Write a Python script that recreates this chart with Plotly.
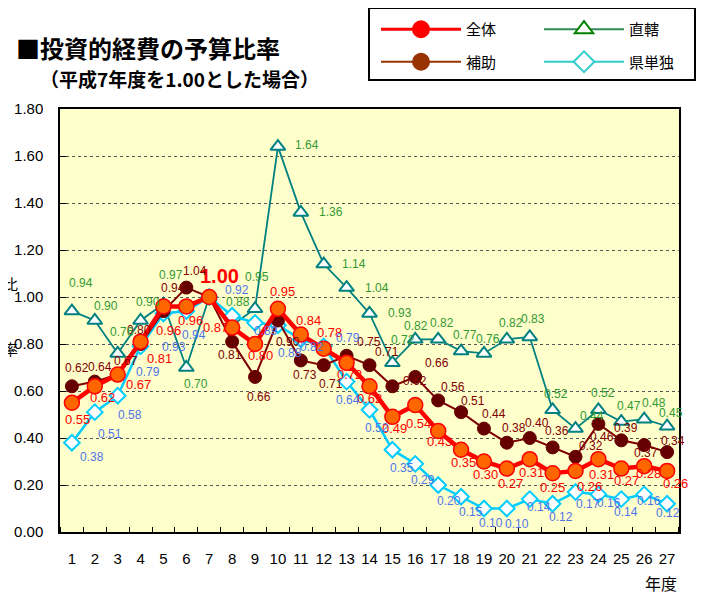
import plotly.graph_objects as go

years = list(range(1, 28))
year_labels = [str(y) for y in years]

zentai = [0.55, 0.62, 0.67, 0.81, 0.96, 0.96, 1.00, 0.87, 0.80, 0.95, 0.84, 0.78, 0.72, 0.62,
          0.49, 0.54, 0.43, 0.35, 0.30, 0.27, 0.31, 0.25, 0.26, 0.31, 0.27, 0.28, 0.26]
hojo = [0.62, 0.64, 0.67, 0.80, 0.94, 1.04, 1.00, 0.81, 0.66, 0.90, 0.73, 0.71, 0.75, 0.71,
        0.62, 0.66, 0.56, 0.51, 0.44, 0.38, 0.40, 0.36, 0.32, 0.46, 0.39, 0.37, 0.34]
chokkatsu = [0.94, 0.90, 0.76, 0.90, 0.97, 0.70, 1.00, 0.88, 0.95, 1.64, 1.36, 1.14, 1.04, 0.93,
             0.72, 0.82, 0.82, 0.77, 0.76, 0.82, 0.83, 0.52, 0.44, 0.52, 0.47, 0.48, 0.45]
kentan = [0.38, 0.51, 0.58, 0.79, 0.93, 0.94, 1.00, 0.92, 0.89, 0.88, 0.82, 0.79, 0.64, 0.52,
          0.35, 0.29, 0.20, 0.15, 0.10, 0.10, 0.14, 0.12, 0.17, 0.16, 0.14, 0.16, 0.12]

# label pixel offsets (dx, dy downward); None = label hidden
off_zentai = [(6, 17), (8, 11), (21, 10), (19, 17), (5, 24), (4, 14), (10, -21), (-17, 0), (5, 11),
              (5, -17), (8, -14), (6, -16), (3, 12), (0, 12), (2, 12), (3, 18), (1, 11), (2, 13),
              (2, 13), (4, 15), (2, 13), (0, 14), (14, 16), (3, 15), (5, 12), (4, 7), (8, 13)]
off_hojo = [(5, -18), (5, -15), (8, -14), (-2, -14), (10, -23), (9, -17), None, (-2, 13), (4, 20),
            (10, 21), (4, 15), (7, 19), (22, -14), (17, -13), (23, -5), (22, -14), (15, -13),
            (12, -11), (10, -15), (7, -15), (7, -15), (4, -16), (15, -11), (4, 13), (5, -12),
            (2, 8), (6, -11)]
off_chok = [(9, -28), (11, -15), (4, -21), (7, -19), (8, -29), (10, 16), None, (6, -23), (2, -32),
            (29, -2), (30, 0), (30, 0), (30, 0), (30, 0), (11, -23), (1, -13), (4, -16), (4, -16),
            (4, -14), (4, -16), (3, -18), (3, -16), (16, -13), (5, -17), (8, -16), (10, -16), (4, -13)]
off_ken = [(20, 14), (15, 22), (12, 19), (7, 26), (11, 34), (8, 24), None, (5, -26), (11, 8),
           (12, 28), (11, 8), (24, -8), (1, 18), (7, 18), (10, 18), (8, 16), (11, 16), (10, 15),
           (7, 14), (10, 15), (9, 8), (8, 13), (12, 12), (11, 9), (5, 13), (5, 7), (1, 9)]

FONT = "Arial, 'Liberation Sans', 'Noto Sans CJK JP', sans-serif"
JFONT = "'Noto Sans CJK JP', sans-serif"

PAGE_OFF = 8  # default page body margin
W, H = 704, 596
L = 60 - PAGE_OFF
T = 109 - PAGE_OFF
R = W - (679 - PAGE_OFF)
B = H - (532 - PAGE_OFF)
pw, ph = W - L - R, H - T - B


def px2paper(px, py):
    fx, fy = px - PAGE_OFF, py - PAGE_OFF
    return (fx - L) / pw, (H - B - fy) / ph


fig = go.Figure()

fig.add_trace(go.Scatter(x=years, y=chokkatsu, mode="lines+markers", showlegend=False,
                         line=dict(color="#008080", width=1.8),
                         marker=dict(symbol="triangle-up", size=13, color="white",
                                     line=dict(color="#008080", width=2))))
fig.add_trace(go.Scatter(x=years, y=kentan, mode="lines+markers", showlegend=False,
                         line=dict(color="#00CCFF", width=2.5),
                         marker=dict(symbol="diamond", size=12, color="white",
                                     line=dict(color="#00CCFF", width=2))))
fig.add_trace(go.Scatter(x=years, y=hojo, mode="lines+markers", showlegend=False,
                         line=dict(color="#800000", width=2),
                         marker=dict(symbol="circle", size=13, color="#660000",
                                     line=dict(color="#660000", width=1))))
fig.add_trace(go.Scatter(x=years, y=zentai, mode="lines+markers", showlegend=False,
                         line=dict(color="#FF0000", width=4.5),
                         marker=dict(symbol="circle", size=15, color="#FF6600",
                                     line=dict(color="#FF0000", width=1.5))))

# legend-only entries (two columns = two legends)
legend_items = [
    ("全体", "#FF0000", "circle", "#FF0000", "#FF0000", 3, "legend"),
    ("補助", "#993300", "circle", "#993300", "#993300", 2, "legend"),
    ("直轄", "#2E8B57", "triangle-up", "white", "#008000", 2, "legend2"),
    ("県単独", "#33CCCC", "diamond", "white", "#33CCCC", 2, "legend2"),
]
for name, lc, sym, fc, oc, lw, lg in legend_items:
    fig.add_trace(go.Scatter(x=[None], y=[None], name=name, mode="lines+markers",
                             legend=lg, legendgroup=name,
                             line=dict(color=lc, width=lw),
                             marker=dict(symbol=sym, size=16, color=fc,
                                         line=dict(color=oc, width=2))))

annotations = []
series_labels = [
    (zentai, off_zentai, "#FF0000", 13),
    (hojo, off_hojo, "#800000", 12),
    (chokkatsu, off_chok, "#339933", 12),
    (kentan, off_ken, "#4F74E8", 12),
]
for vals, offs, col, fs in series_labels:
    for x, v, o in zip(years, vals, offs):
        if o is None:
            continue
        big = (vals is zentai and x == 7)
        annotations.append(dict(
            x=x, y=v, xref="x", yref="y", text=(f"<b>{v:.2f}</b>" if big else f"{v:.2f}"),
            showarrow=False, xshift=o[0], yshift=-o[1],
            font=dict(color=col, size=20 if big else fs, family=FONT)))

texts = [
    ("<b>■投資的経費の予算比率</b>", 14, 48, 24, "left"),
    ("<b>（平成7年度を1.00とした場合）</b>", 38, 79, 19, "left"),
    ("比", 10, 283, 15, "center"),
    ("率", 10, 348, 15, "center"),
    ("年度", 661, 583, 16, "center"),
]
for t, px, py, fs, xa in texts:
    ax, ay = px2paper(px, py)
    annotations.append(dict(text=t, x=ax, y=ay, xref="paper", yref="paper", showarrow=False,
                            xanchor=xa, yanchor="middle",
                            font=dict(size=fs, color="black", family=JFONT)))

bx0, by0 = px2paper(369, 8)
bx1, by1 = px2paper(695, 80)
lx1, ly = px2paper(376, 13)
lx2, _ = px2paper(539, 13)

fig.update_layout(
    width=W, height=H,
    margin=dict(l=L, r=R, t=T, b=B, autoexpand=False),
    paper_bgcolor="white", plot_bgcolor="#FFFFCC",
    font=dict(family=FONT, color="black"),
    annotations=annotations,
    shapes=[dict(type="rect", xref="paper", yref="paper", x0=bx0, y0=by0, x1=bx1, y1=by1,
                 line=dict(color="black", width=2), fillcolor="white", layer="below")],
    legend=dict(orientation="v", x=lx1, y=ly, xanchor="left", yanchor="top",
                bgcolor="rgba(0,0,0,0)", borderwidth=0, itemwidth=80, tracegroupgap=10,
                font=dict(size=15, family=JFONT)),
    legend2=dict(orientation="v", x=lx2, y=ly, xanchor="left", yanchor="top",
                 bgcolor="rgba(0,0,0,0)", borderwidth=0, itemwidth=80, tracegroupgap=10,
                 font=dict(size=15, family=JFONT)),
    xaxis=dict(range=[0.48, 27.52], tickvals=years, ticktext=year_labels, ticks="",
               tickfont=dict(size=15), ticklabelstandoff=12,
               showgrid=False, zeroline=False, showline=True, linecolor="black",
               linewidth=1.5, mirror=True,
               minor=dict(ticks="inside", tick0=0.5, dtick=1, ticklen=5,
                          tickcolor="black", showgrid=False)),
    yaxis=dict(range=[0, 1.80], tickvals=[i * 0.2 for i in range(10)],
               ticktext=[f"{i * 0.2:.2f}" for i in range(10)], ticks="inside", ticklen=6,
               tickcolor="black", tickfont=dict(size=15), ticklabelstandoff=12,
               showgrid=True, gridcolor="#555555", griddash="dot", gridwidth=1,
               zeroline=False, showline=True, linecolor="black", linewidth=1.5, mirror=True),
)

fig.write_html("out.html")
